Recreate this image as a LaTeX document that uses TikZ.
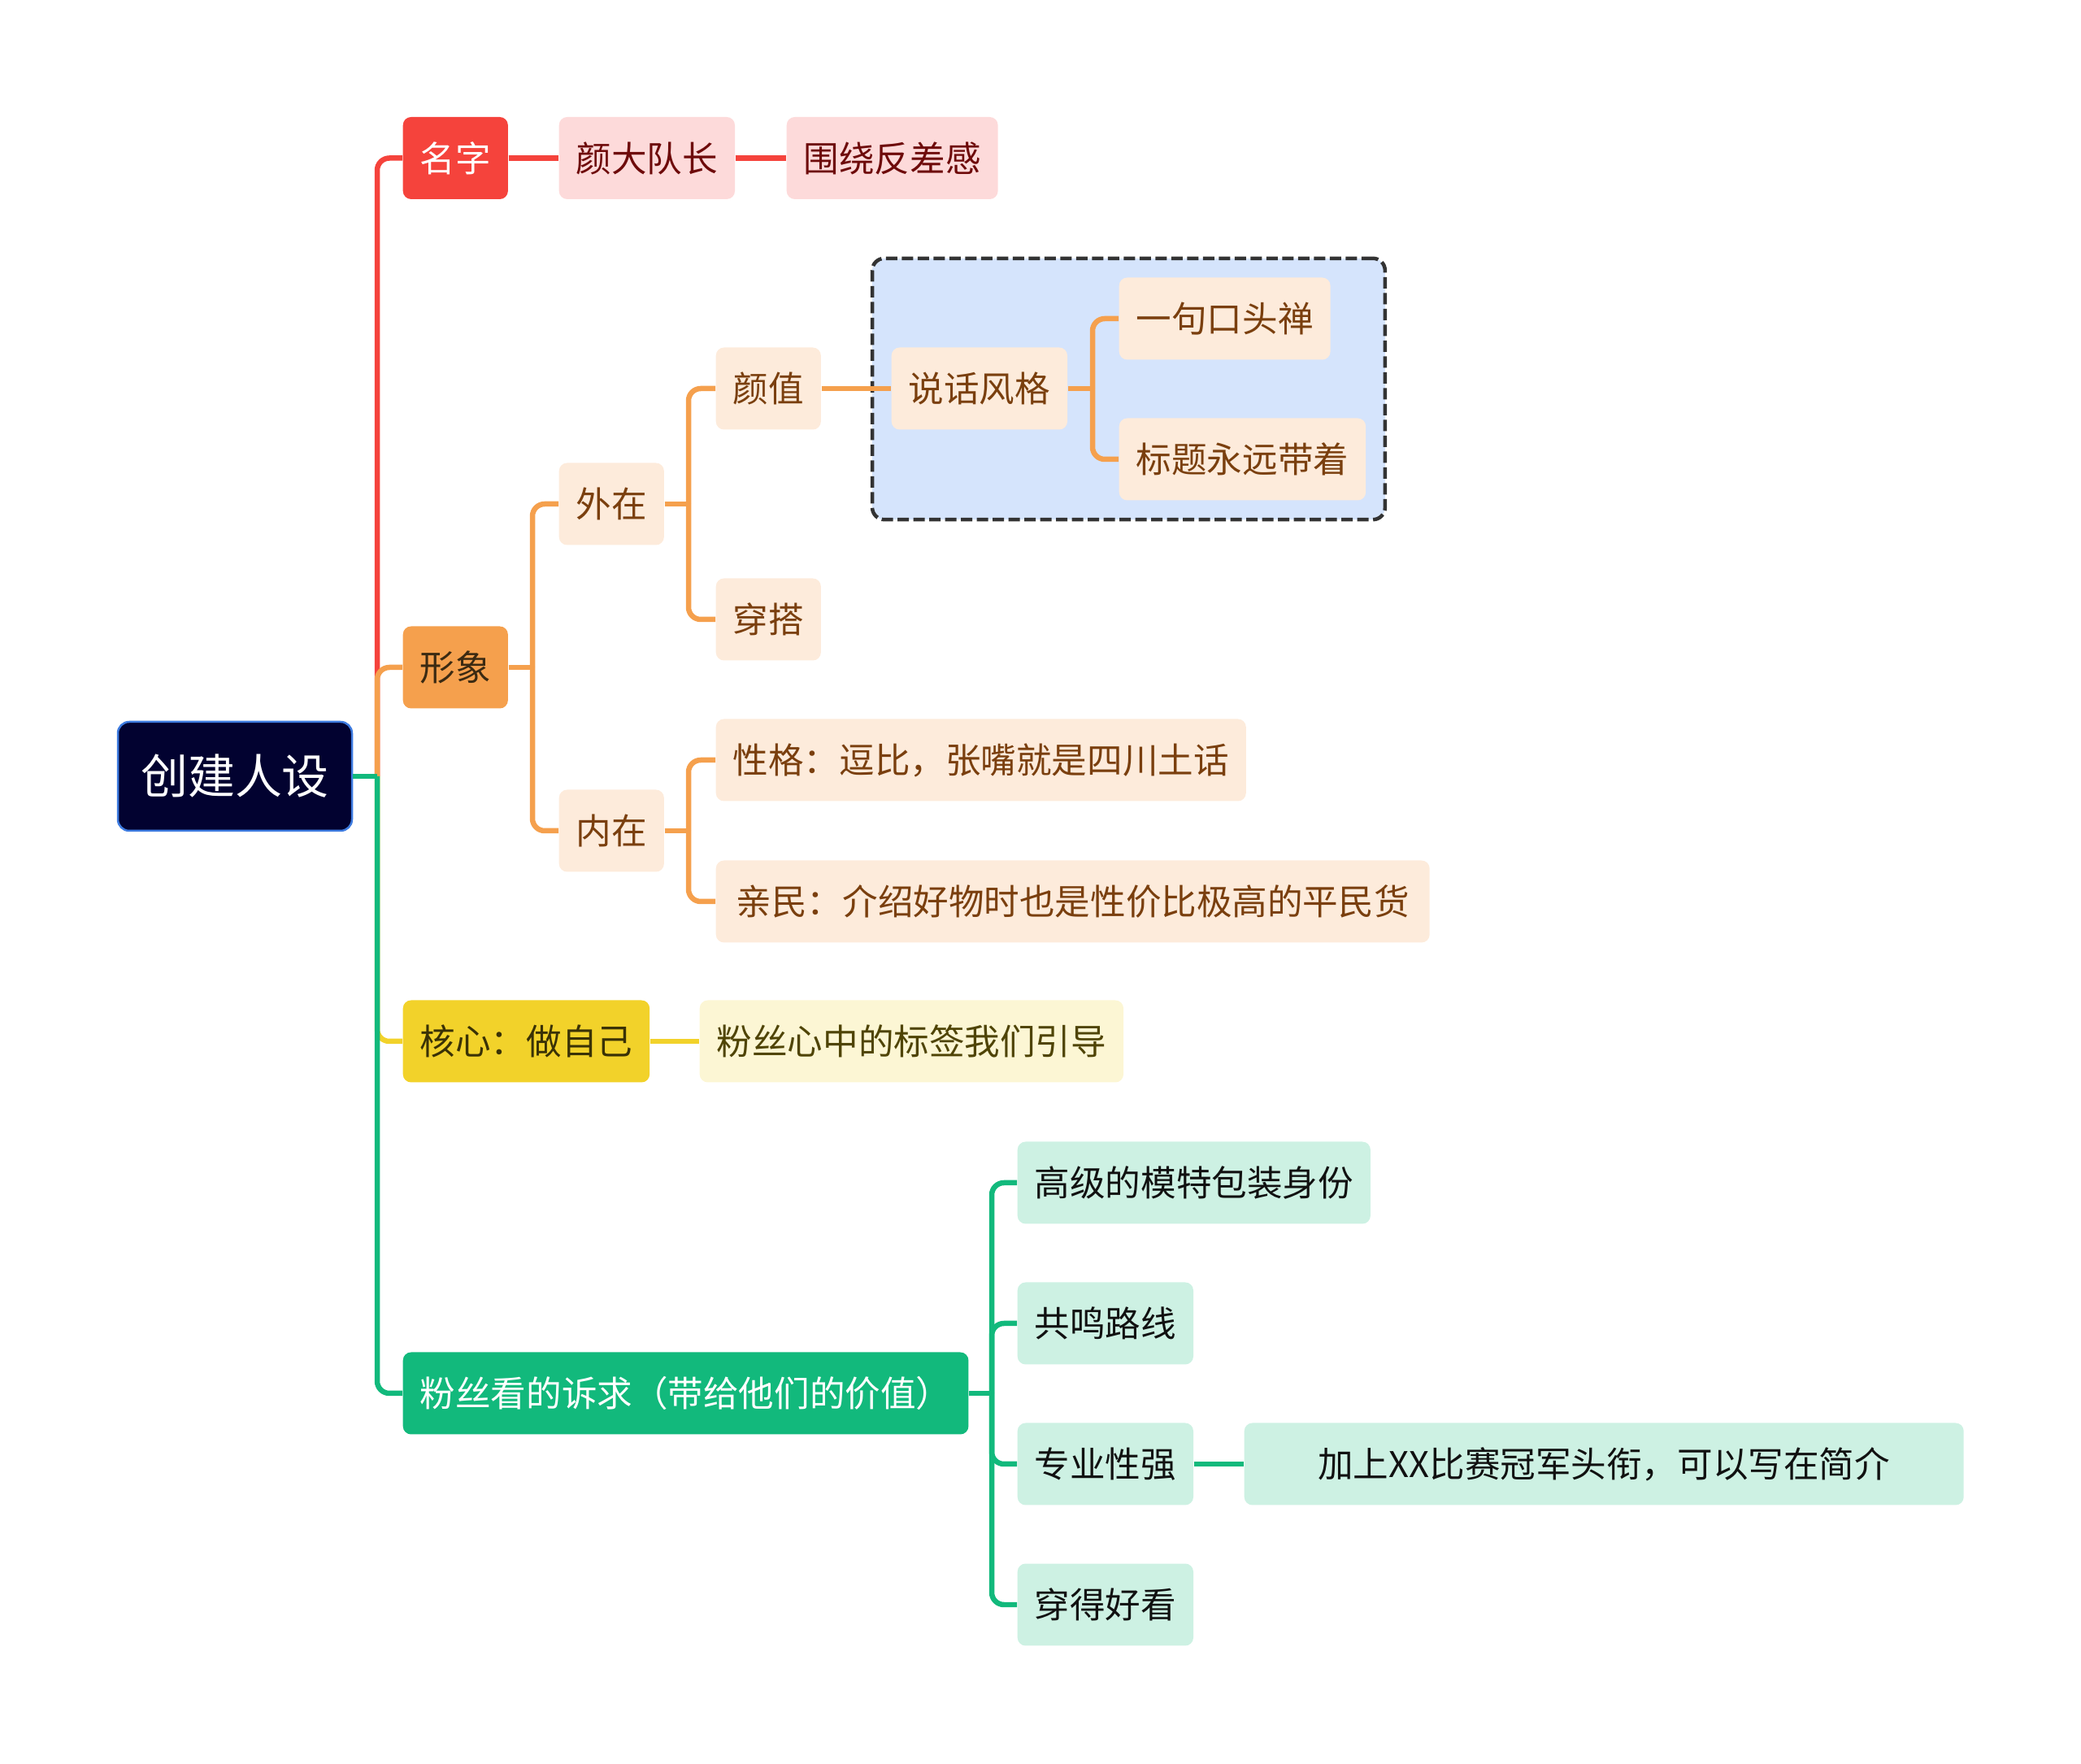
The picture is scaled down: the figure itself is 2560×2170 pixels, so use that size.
\documentclass[tikz,border=0pt]{standalone}
\usepackage{fontspec}
\setmainfont{Noto Sans CJK SC}
\usetikzlibrary{fit,backgrounds}
\definecolor{rootfill}{HTML}{020230}
\definecolor{rootline}{HTML}{3D7BE0}
\definecolor{redmain}{HTML}{F5433C}
\definecolor{redsoft}{HTML}{FDDADA}
\definecolor{redtext}{HTML}{6E0A0A}
\definecolor{orgmain}{HTML}{F5A04D}
\definecolor{orgsoft}{HTML}{FDEBDB}
\definecolor{orgtext}{HTML}{7A3F0E}
\definecolor{orgdark}{HTML}{3B2A12}
\definecolor{ylwmain}{HTML}{F2D22A}
\definecolor{ylwsoft}{HTML}{FCF6D4}
\definecolor{ylwtext}{HTML}{4F4405}
\definecolor{ylwdark}{HTML}{3A3206}
\definecolor{grnmain}{HTML}{12B97C}
\definecolor{grnsoft}{HTML}{CDF1E3}
\definecolor{grntext}{HTML}{111111}
\definecolor{framefill}{HTML}{D5E4FC}
\definecolor{frameline}{HTML}{333333}

\begin{document}
\begin{tikzpicture}[
  x=0.1mm, y=-0.1mm,
  font=\fontsize{12.4pt}{14pt}\selectfont,
  card/.style={                             % every topic box
    rectangle, rounded corners=1mm, anchor=west,
    minimum height=10.1mm, inner xsep=2.1mm, inner ysep=0pt
  },
  rootcard/.style={
    rectangle, rounded corners=1.4mm, draw=rootline, line width=0.25mm,
    fill=rootfill, text=white, minimum width=28.8mm, minimum height=13.4mm,
    font=\fontsize{16.5pt}{18pt}\selectfont
  },
  redtop/.style={card, fill=redmain, text=white},
  redsub/.style={card, fill=redsoft, text=redtext},
  orgtop/.style={card, fill=orgmain, text=orgdark},
  orgsub/.style={card, fill=orgsoft, text=orgtext},
  ylwtop/.style={card, fill=ylwmain, text=ylwdark},
  ylwsub/.style={card, fill=ylwsoft, text=ylwtext},
  grntop/.style={card, fill=grnmain, text=white},
  grnsub/.style={card, fill=grnsoft, text=grntext},
  talkframe/.style={                        % dashed group round the speech style
    rectangle, rounded corners=1.5mm, draw=frameline, fill=framefill,
    line width=0.45mm, dash pattern=on 1.4mm off 0.55mm, inner sep=2.3mm
  },
  link/.style={line width=0.65mm, rounded corners=1.5mm},
]
\useasboundingbox (0,0) rectangle (2560,2170);

% ---- Root ----
\node (root) at (289,955) [rootcard] {创建人设};

% ---- First level ----
\node (name)  at (495,194.5) [redtop] {名字};
\node (image) at (495,821)   [orgtop] {形象};
\node (core)  at (495,1281)  [ylwtop] {核心：做自己};
\node (fans)  at (495,1714)  [grntop] {粉丝看的诉求（带给他们的价值）};

% ---- Name ----
\node (captain) at (687,194.5) [redsub] {颜大队长};
\node (contrast) at (967,194.5) [redsub] {围绕反差感};

% ---- Image ----
\node (outer) at (687,620)  [orgsub] {外在};
\node (inner) at (687,1022) [orgsub] {内在};

\node (looks)  at (880,478) [orgsub] {颜值};
\node (outfit) at (880,762) [orgsub] {穿搭};
\node (talk)   at (1096,478) [orgsub] {说话风格};
\node (phrase) at (1376,392) [orgsub] {一句口头禅};
\node (title)  at (1376,565) [orgsub] {标题永远带着};

\node (temper) at (880,935)  [orgsub] {性格：逗比，张嘴就是四川土话};
\node (folksy) at (880,1109) [orgsub, minimum width=87.8mm] {亲民：介绍好物时也是性价比极高的平民货};

% ---- Core ----
\node (label) at (860,1281) [ylwsub] {粉丝心中的标签我们引导};

% ---- Fans ----
\node (model)  at (1251,1455) [grnsub] {高级的模特包装身份};
\node (echo)   at (1251,1628) [grnsub] {共鸣路线};
\node (expert) at (1251,1801) [grnsub] {专业性强};
\node (dress)  at (1251,1974) [grnsub] {穿得好看};
\node (champ)  at (1530,1801) [grnsub, minimum width=88.5mm] {加上XX比赛冠军头衔，可以写在简介};

% ---- Dashed group ----
\begin{scope}[on background layer]
  \node (frame) [talkframe, fit=(talk)(phrase)(title)] {};
\end{scope}

% ---- Junctions ----
\coordinate (jroot)  at (464,955);
\coordinate (jimage) at (655,821);
\coordinate (jouter) at (847,620);
\coordinate (jinner) at (847,1022);
\coordinate (jtalk)  at (1344,478);
\coordinate (jfans)  at (1220,1714);

% ---- Edges ----
\draw[link, draw=redmain] (jroot) |- (name.west);
\draw[link, draw=orgmain] (jroot) |- (image.west);
\draw[link, draw=ylwmain] (jroot) |- (core.west);
\draw[link, draw=grnmain] (jroot) |- (fans.west);
\draw[link, draw=grnmain] (root.east) -- (jroot);

\foreach \p/\c in {name/captain, captain/contrast}
  \draw[link, draw=redmain] (\p.east) -- (\c.west);

\foreach \p/\j in {image/jimage, outer/jouter, inner/jinner, talk/jtalk}
  \draw[link, draw=orgmain] (\p.east) -- (\j);
\foreach \j/\c in {jimage/outer, jimage/inner,
                   jouter/looks, jouter/outfit,
                   jinner/temper, jinner/folksy,
                   jtalk/phrase, jtalk/title}
  \draw[link, draw=orgmain] (\j) |- (\c.west);
\draw[link, draw=orgmain] (looks.east) -- (talk.west);

\draw[link, draw=ylwmain] (core.east) -- (label.west);

\draw[link, draw=grnmain] (fans.east) -- (jfans);
\foreach \c in {model, echo, expert, dress}
  \draw[link, draw=grnmain] (jfans) |- (\c.west);
\draw[link, draw=grnmain] (expert.east) -- (champ.west);

\end{tikzpicture}
\end{document}
